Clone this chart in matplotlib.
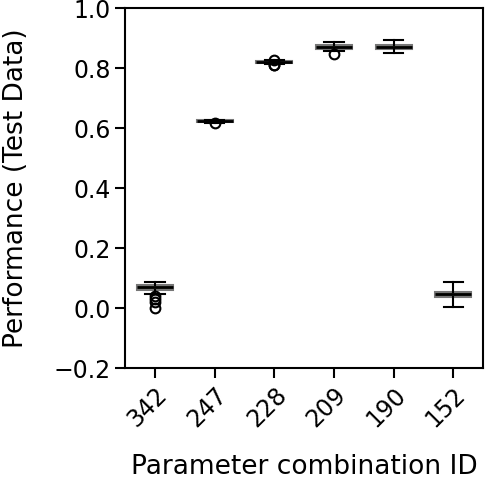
import matplotlib
matplotlib.use("Agg")
import matplotlib.pyplot as plt

ids = ["342", "247", "228", "209", "190", "152"]
med = [0.070, 0.624, 0.820, 0.870, 0.870, 0.046]
q1 = [0.062, 0.621, 0.816, 0.864, 0.864, 0.038]
q3 = [0.076, 0.627, 0.824, 0.876, 0.876, 0.054]
lo = [0.048, 0.619, 0.813, 0.856, 0.850, 0.004]
hi = [0.087, 0.628, 0.826, 0.888, 0.893, 0.087]
fliers = [[0.040, 0.032, 0.022, 0.002], [0.616], [0.829, 0.810, 0.812], [0.846], [], []]

stats = []
for i in range(len(ids)):
    stats.append({"med": med[i], "q1": q1[i], "q3": q3[i],
                  "whislo": lo[i], "whishi": hi[i], "fliers": fliers[i], "label": ids[i]})

fig = plt.figure(figsize=(4.87, 4.82), dpi=100)
ax = fig.add_axes([0.257, 0.236, 0.735, 0.747])
bp = ax.bxp(stats, patch_artist=True, widths=0.6, capwidths=0.32,
            boxprops=dict(facecolor="#6f8a5e", edgecolor="#777777", linewidth=1.5),
            medianprops=dict(color="black", linewidth=2),
            whiskerprops=dict(color="black", linewidth=1.5),
            capprops=dict(color="black", linewidth=1.5),
            flierprops=dict(marker="o", markerfacecolor="none", markeredgecolor="black",
                            markersize=7, markeredgewidth=1.5))
ax.set_ylim(-0.2, 1.0)
ax.set_xlim(0.5, 6.5)
ax.set_yticks([-0.2, 0.0, 0.2, 0.4, 0.6, 0.8, 1.0])
for s in ax.spines.values():
    s.set_linewidth(1.5)
ax.tick_params(labelsize=17, length=7, width=1.5)
ax.set_xticklabels(ids, rotation=45, ha="right", rotation_mode="anchor")
ax.set_xlabel("Parameter combination ID", fontsize=19, labelpad=16)
ax.set_ylabel("Performance (Test Data)", fontsize=19)
ax.yaxis.set_label_coords(-0.27, 0.5)
fig.savefig("out.png", dpi=100)
